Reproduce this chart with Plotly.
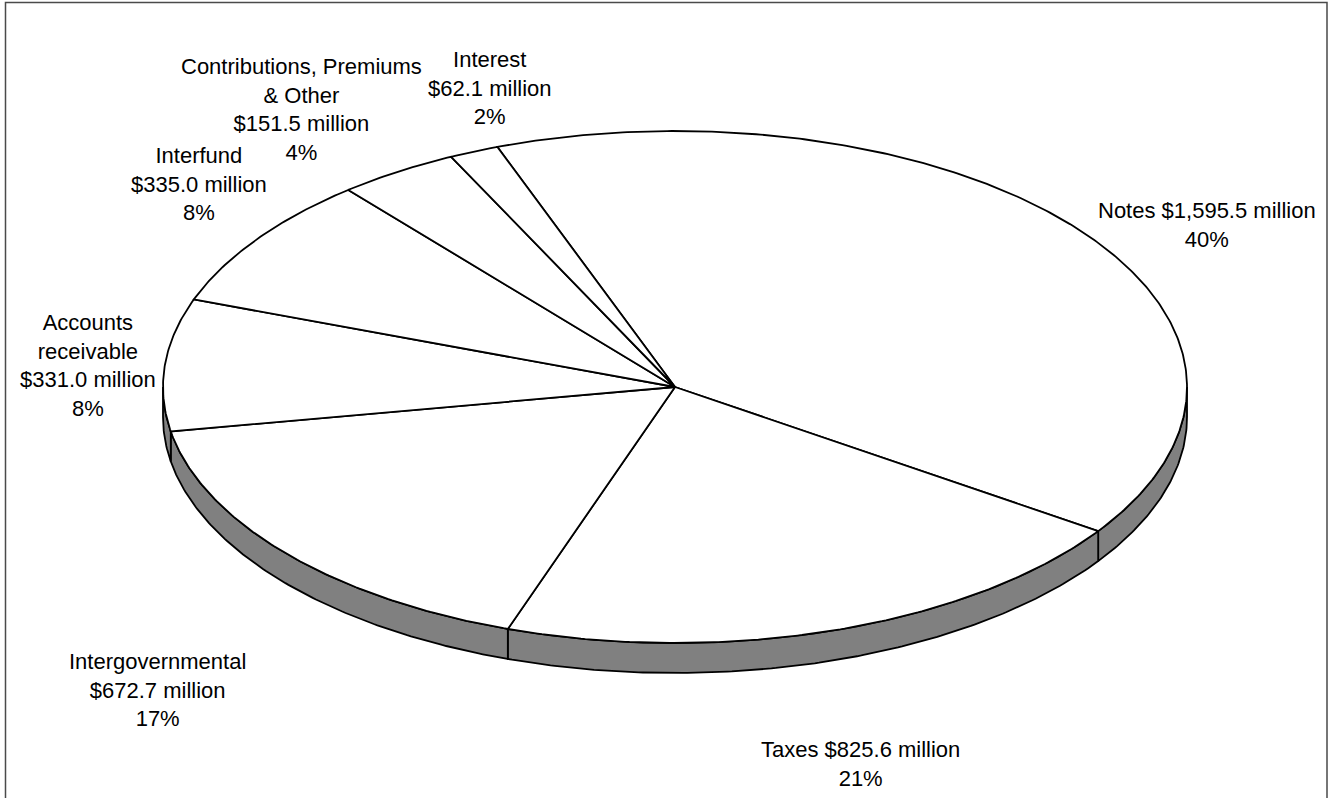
import numpy as np
import plotly.graph_objects as go

# ---------------- data ----------------
categories = ["Notes", "Taxes", "Intergovernmental", "Accounts receivable",
              "Interfund", "Contributions, Premiums & Other", "Interest"]
values = [1595.5, 825.6, 672.7, 331.0, 335.0, 151.5, 62.1]
# how each category name is broken into lines in its label
name_lines = [["Notes"], ["Taxes"], ["Intergovernmental"], ["Accounts", "receivable"],
              ["Interfund"], ["Contributions, Premiums", "& Other"], ["Interest"]]
value_inline = [True, True, False, False, False, False, False]

# ---------------- layout constants ----------------
W, H = 1328, 798
CX, CY = 675.0, 387.0       # centre of pie top surface (px)
RX, RY = 512.0, 256.0       # ellipse radii (px)
DEPTH = 30.0                # thickness of the 3D side (px)
START = 339.7               # first slice angle, degrees clockwise from 12 o'clock
FONT = dict(family="Liberation Sans, Arial, sans-serif", size=22, color="black")
label_pos = [(1207, 225), (860, 764), (157, 690), (88, 365),
             (199, 184), (301, 109), (490, 88)]

total = sum(values)
spans = [v / total * 360.0 for v in values]


def arc(a, b, dy=0.0, n=None):
    if n is None:
        n = max(2, int(abs(b - a) * 2) + 2)
    t = np.radians(np.linspace(a, b, n))
    return CX + RX * np.sin(t), CY - RY * np.cos(t) + dy


fig = go.Figure()

# ---- side (front half visible: 90..270 deg clockwise) ----
acc = START
for s in spans:
    a, b = acc, acc + s
    acc = b
    for k in range(-1, 3):
        lo = max(a, 90 + 360 * k)
        hi = min(b, 270 + 360 * k)
        if hi > lo:
            tx, ty = arc(lo, hi)
            bx, by = arc(hi, lo, DEPTH)
            xs = list(tx) + list(bx) + [tx[0]]
            ys = list(ty) + list(by) + [ty[0]]
            fig.add_trace(go.Scatter(x=xs, y=ys, mode="lines", fill="toself",
                                     fillcolor="#808080",
                                     line=dict(color="black", width=1.8),
                                     hoverinfo="skip", showlegend=False))

# ---- top surface slices ----
acc = START
for name, s in zip(categories, spans):
    a, b = acc, acc + s
    acc = b
    ax, ay = arc(a, b)
    xs = [CX] + list(ax) + [CX]
    ys = [CY] + list(ay) + [CY]
    fig.add_trace(go.Scatter(x=xs, y=ys, mode="lines", fill="toself",
                             fillcolor="white",
                             line=dict(color="black", width=1.8),
                             name=name, hoverinfo="skip", showlegend=False))

# ---- labels ----
for v, nl, inline, (lx, ly) in zip(values, name_lines, value_inline, label_pos):
    val = f"${v:,.1f} million"
    pct = f"{round(v / total * 100):.0f}%"
    if inline:
        txt = "<br>".join(nl[:-1] + [nl[-1] + " " + val, pct])
    else:
        txt = "<br>".join(nl + [val, pct])
    fig.add_annotation(x=lx, y=ly, xref="x", yref="y", text=txt, showarrow=False,
                       font=FONT, align="center", xanchor="center", yanchor="middle")

# ---- outer frame ----
fig.add_shape(type="rect", xref="x", yref="y", x0=5.5, x1=1327, y0=2.5, y1=830,
              line=dict(color="#4a4a4a", width=1.5), fillcolor="rgba(0,0,0,0)")

fig.update_layout(
    width=W, height=H, margin=dict(l=0, r=0, t=0, b=0),
    paper_bgcolor="white", plot_bgcolor="white", showlegend=False,
    xaxis=dict(range=[0, W], visible=False, fixedrange=True),
    yaxis=dict(range=[H, 0], visible=False, fixedrange=True),
)

fig.write_html("out.html")
